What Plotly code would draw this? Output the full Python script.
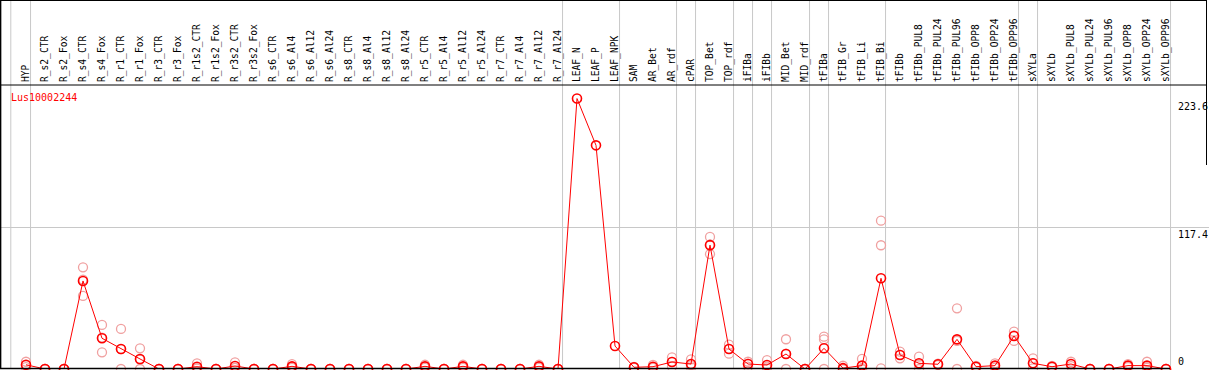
import plotly.graph_objects as go

categories = ["HYP", "R_s2_CTR", "R_s2_Fox", "R_s4_CTR", "R_s4_Fox", "R_r1_CTR", "R_r1_Fox",
              "R_r3_CTR", "R_r3_Fox", "R_r1s2_CTR", "R_r1s2_Fox", "R_r3s2_CTR", "R_r3s2_Fox",
              "R_s6_CTR", "R_s6_Al4", "R_s6_Al12", "R_s6_Al24", "R_s8_CTR", "R_s8_Al4", "R_s8_Al12",
              "R_s8_Al24", "R_r5_CTR", "R_r5_Al4", "R_r5_Al12", "R_r5_Al24", "R_r7_CTR", "R_r7_Al4",
              "R_r7_Al12", "R_r7_Al24", "LEAF_N", "LEAF_P", "LEAF_NPK", "SAM", "AR_Bet", "AR_rdf",
              "cPAR", "TOP_Bet", "TOP_rdf", "iFIBa", "iFIBb", "MID_Bet", "MID_rdf", "tFIBa",
              "tFIB_Gr", "tFIB_Li", "tFIB_Bi", "tFIBb", "tFIBb_PUL8", "tFIBb_PUL24", "tFIBb_PUL96",
              "tFIBb_OPP8", "tFIBb_OPP24", "tFIBb_OPP96", "sXYLa", "sXYLb", "sXYLb_PUL8",
              "sXYLb_PUL24", "sXYLb_PUL96", "sXYLb_OPP8", "sXYLb_OPP24", "sXYLb_OPP96"]

means = [3.5, 0, 0, 72.8, 25.4, 16.5, 8.3, 0, 0, 1.9, 0, 2.5, 0,
         0, 2.2, 0, 0, 0, 0, 0, 0, 2.2, 0, 2.2, 0, 0, 0, 2.2, 0,
         223.6, 184.9, 19.0, 1.4, 1.9, 5.8, 4.1, 102.4, 16.5, 4.1, 3.3, 12.4, 0, 17.1,
         0.7, 2.8, 75.0, 11.6, 4.7, 3.9, 24.5, 1.9, 2.8, 27.3, 4.7, 1.9, 4.1,
         0, 0, 2.8, 2.8, 0]

rep1 = [6.0, 0, 0, 84.1, 36.4, 33.1, 17.1, 0, 0, 4.7, 0, 5.5, 0,
        0, 4.0, 0, 0, 0, 0, 0, 0, 3.5, 0, 3.5, 0, 0, 0, 3.5, 0,
        None, None, None, 1.8, 3.3, 9.6, 8.0, 109.2, 20.1, 6.0, 7.4, 24.6, 0, 26.7,
        2.7, 8.3, 122.6, 14.3, 10.2, 4.5, 50.2, 2.5, 4.7, 30.9, 8.8, 2.5, 6.0,
        0, 0, 4.0, 6.0, 0]
rep2 = [3.0, 0, 0, 60.4, 13.8, 0, 0, 0, 0, 0.5, 0, 1.0, 0,
        0, 1.5, 0, 0, 0, 0, 0, 0, 2.0, 0, 2.0, 0, 0, 0, 2.0, 0,
        None, None, None, 1.0, 1.5, 5.9, 3.0, 95.0, 12.7, 4.4, 2.0, 12.6, 0, 24.5,
        0, 0, 102.3, 8.8, 3.9, 3.9, 0, 1.9, 2.5, 23.2, 4.8, 1.9, 4.0,
        0, 0, 2.8, 1.5, 0]
rep3 = [1.5, 0, 0, 73.9, 26.0, 16.4, 7.8, 0, 0, 0.5, 0, 1.0, 0,
        0, 1.0, 0, 0, 0, 0, 0, 0, 1.0, 0, 1.0, 0, 0, 0, 1.0, 0,
        None, None, None, 1.4, 1.0, 1.9, 1.3, 103.0, 16.7, 1.9, 0.5, 0, 0, 0,
        0, 0, 0.5, 11.7, 0, 3.3, 23.3, 1.3, 1.2, 27.8, 0.5, 1.3, 2.3,
        0, 0, 1.6, 0.9, 0]

group_ends = [-1.04, 0, 28, 31, 34, 35, 37, 38, 39, 41, 42, 45, 52, 53, 60]
y_ticks = [0, 117.4, 223.6]
y_max = 234.8
gene = "Lus10002244"

W, H = 1209, 370
TOP, BOT = 85, 1
plot_h = H - TOP - BOT
x0px, step = 26, 19
xr0 = -x0px / step
xr1 = xr0 + W / step
ytop_paper = (H - BOT) / plot_h

FONT = "DejaVu Sans Mono"
idx = list(range(len(categories)))

fig = go.Figure()
rx, ry = [], []
for r in (rep1, rep2, rep3):
    for i, v in zip(idx, r):
        if v is not None:
            rx.append(i)
            ry.append(v)
fig.add_trace(go.Scatter(x=rx, y=ry, mode="markers", cliponaxis=False, hoverinfo="skip",
                         marker=dict(symbol="circle-open", size=9, color="#f0a0a0",
                                     line=dict(width=1.3, color="#f0a0a0"))))
fig.add_trace(go.Scatter(x=idx, y=means, mode="lines+markers", cliponaxis=False,
                         line=dict(color="#ff0000", width=1),
                         marker=dict(symbol="circle-open", size=9, color="#ff0000",
                                     line=dict(width=1.6, color="#ff0000"))))

shapes = []
for g in group_ends:
    shapes.append(dict(type="line", xref="x", yref="paper", x0=g + 0.24, x1=g + 0.24,
                       y0=0, y1=ytop_paper, line=dict(color="#c8c8c8", width=1), layer="below"))
black = dict(color="#000000", width=1)
shapes += [
    dict(type="line", xref="paper", yref="paper", x0=0, x1=1207 / W, y0=ytop_paper - 0.5 / plot_h,
         y1=ytop_paper - 0.5 / plot_h, line=black),
    dict(type="line", xref="paper", yref="paper", x0=0, x1=1207 / W, y0=1, y1=1, line=black),
    dict(type="line", xref="paper", yref="paper", x0=0.6 / W, x1=0.6 / W, y0=0, y1=ytop_paper,
         line=dict(color="#000000", width=1.5)),
    dict(type="line", xref="paper", yref="paper", x0=1206.5 / W, x1=1206.5 / W,
         y0=(H - BOT - 165) / plot_h, y1=ytop_paper, line=black),
    dict(type="line", xref="paper", yref="paper", x0=0, x1=1170 / W, y0=0.5 / plot_h,
         y1=0.5 / plot_h, line=dict(color="#000000", width=1.5)),
]

annotations = [dict(text=gene, xref="paper", yref="paper", x=9 / W, y=(H - BOT - 97) / plot_h,
                    xanchor="left", yanchor="middle", showarrow=False,
                    font=dict(family=FONT, size=10, color="#ff0000"))]
for v in y_ticks:
    annotations.append(dict(text=f"{v:g}" if v == 0 else f"{v:.1f}", xref="paper", yref="y",
                            x=1176 / W, y=v, xanchor="left",
                            yanchor="bottom" if v == 0 else "top", showarrow=False,
                            font=dict(family=FONT, size=10, color="#000000")))

fig.update_layout(
    width=W, height=H, autosize=False,
    margin=dict(l=0, r=0, t=TOP, b=BOT, pad=0, autoexpand=False),
    paper_bgcolor="#ffffff", plot_bgcolor="#ffffff",
    showlegend=False, shapes=shapes, annotations=annotations,
    xaxis=dict(range=[xr0, xr1], side="top", tickmode="array", tickvals=idx, ticktext=categories,
               tickangle=-90, ticks="", showgrid=False, zeroline=False, showline=False,
               automargin=False,
               tickfont=dict(family=FONT, size=9.6, color="#000000"), ticklabelstandoff=2),
    yaxis=dict(range=[0, y_max], tickmode="array", tickvals=[117.4], showticklabels=False,
               showgrid=True, gridcolor="#c8c8c8", gridwidth=1, zeroline=False, showline=False,
               ticks="", automargin=False),
)

fig.write_html("out.html", config={"displayModeBar": False},
               post_script="document.body.style.margin='0';document.body.style.overflow='hidden';")
